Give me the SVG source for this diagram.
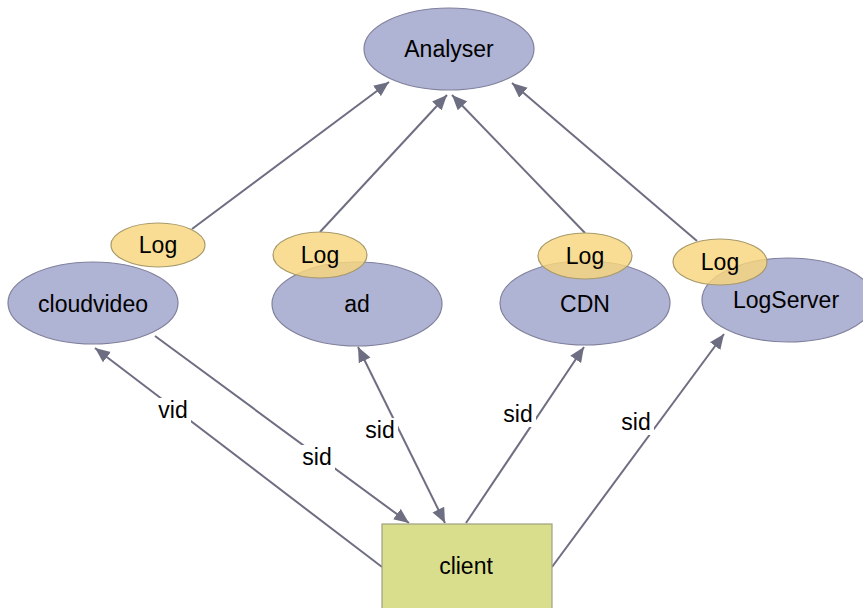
<svg xmlns="http://www.w3.org/2000/svg" width="863" height="608" viewBox="0 0 863 608">
<style>
.node{fill:#afb3d4;stroke:#80809c;stroke-width:1.2}
.log{fill:#f8d67c;fill-opacity:0.82;stroke:#a89a6a;stroke-width:1.2}
.box{fill:#d8de8c;stroke:#a0a080;stroke-width:1.2}
.t{font-family:"Liberation Sans",Arial,sans-serif;font-size:23px;fill:#000;text-anchor:middle}
.c{stroke:#6e6e82;stroke-width:2;fill:none}
.lb{fill:#fff}
</style>
<defs>
<marker id="ah" markerUnits="userSpaceOnUse" markerWidth="16" markerHeight="14" refX="15" refY="6.5" orient="auto-start-reverse" viewBox="0 0 16 13">
<path d="M0,0 L15,6.5 L0,13 Z" fill="#6e6e82"/>
</marker>
</defs>
<g id="connectors">
<line class="c" x1="192" y1="229" x2="389" y2="82" marker-end="url(#ah)"/>
<line class="c" x1="320" y1="232" x2="447" y2="95" marker-end="url(#ah)"/>
<line class="c" x1="585" y1="233" x2="452" y2="95" marker-end="url(#ah)"/>
<line class="c" x1="697" y1="241" x2="512" y2="83" marker-end="url(#ah)"/>
<line class="c" x1="382" y1="567" x2="95" y2="348" marker-end="url(#ah)"/>
<line class="c" x1="155" y1="336" x2="409" y2="523" marker-end="url(#ah)"/>
<line class="c" x1="358" y1="347" x2="445" y2="523" marker-start="url(#ah)" marker-end="url(#ah)"/>
<line class="c" x1="466" y1="523" x2="584" y2="347" marker-end="url(#ah)"/>
<line class="c" x1="552" y1="567" x2="724" y2="334" marker-end="url(#ah)"/>
<rect class="lb" x="156" y="398" width="35" height="25"/>
<text class="t" x="173" y="418">vid</text>
<rect class="lb" x="300" y="445" width="35" height="25"/>
<text class="t" x="317" y="465">sid</text>
<rect class="lb" x="363" y="418" width="35" height="25"/>
<text class="t" x="380" y="438">sid</text>
<rect class="lb" x="501" y="402" width="35" height="25"/>
<text class="t" x="518" y="422">sid</text>
<rect class="lb" x="619" y="410" width="35" height="25"/>
<text class="t" x="636" y="430">sid</text>
</g>
<g id="analyser">
<ellipse class="node" cx="449" cy="49" rx="85" ry="41"/>
<text class="t" x="449" y="57">Analyser</text>
</g>
<g id="cloudvideo">
<ellipse class="node" cx="93" cy="303" rx="85" ry="41"/>
<text class="t" x="93" y="312">cloudvideo</text>
</g>
<g id="ad">
<ellipse class="node" cx="357" cy="304" rx="85" ry="42"/>
<text class="t" x="357" y="312">ad</text>
</g>
<g id="cdn">
<ellipse class="node" cx="585" cy="303" rx="85" ry="42"/>
<text class="t" x="585" y="312">CDN</text>
</g>
<g id="logserver">
<ellipse class="node" cx="788" cy="300" rx="86" ry="42"/>
<text class="t" x="786" y="308">LogServer</text>
</g>
<g id="log-cloudvideo">
<ellipse class="log" cx="158" cy="245" rx="47" ry="22"/>
<text class="t" x="158" y="253">Log</text>
</g>
<g id="log-ad">
<ellipse class="log" cx="320" cy="255" rx="47" ry="23"/>
<text class="t" x="320" y="263">Log</text>
</g>
<g id="log-cdn">
<ellipse class="log" cx="585" cy="256" rx="47" ry="23"/>
<text class="t" x="585" y="264">Log</text>
</g>
<g id="log-logserver">
<ellipse class="log" cx="720" cy="262" rx="47" ry="23"/>
<text class="t" x="720" y="270">Log</text>
</g>
<g id="client">
<rect class="box" x="382" y="524" width="170" height="90"/>
<text class="t" x="466" y="574">client</text>
</g>
</svg>
